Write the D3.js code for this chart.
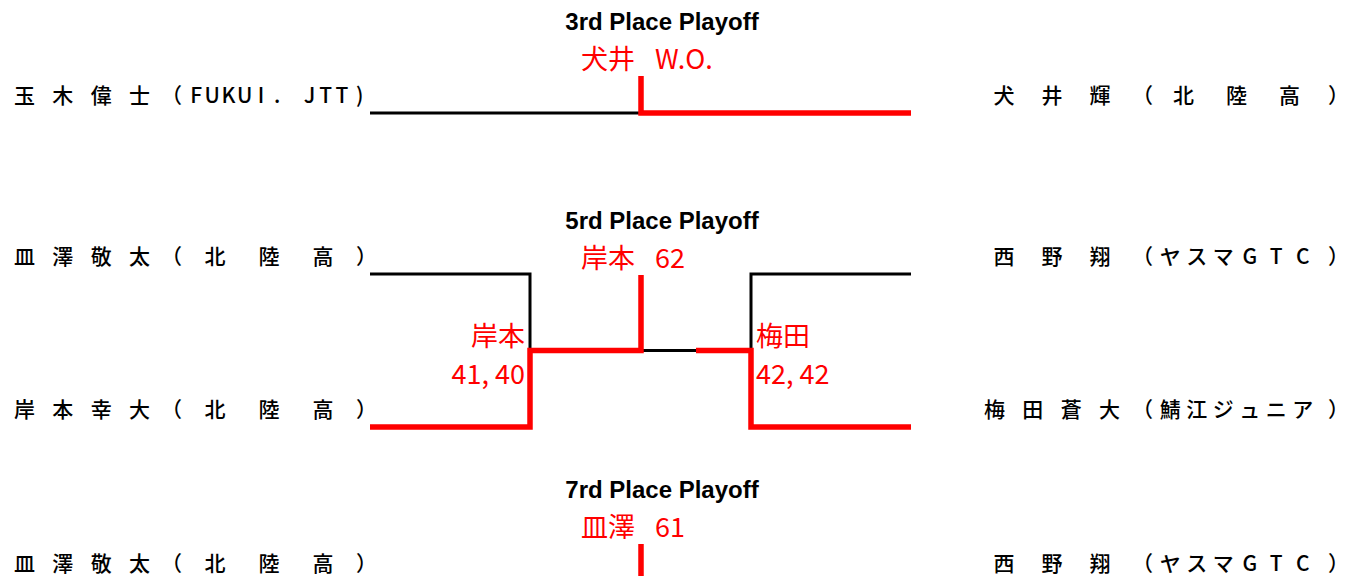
<!DOCTYPE html>
<html>
<head>
<meta charset="utf-8">
<script src="https://cdn.jsdelivr.net/npm/d3@7"></script>
<style>
  body { margin: 0; background: #fff; }
</style>
</head>
<body>
<script>
// playoff titles (one per match)
const titles = ["3rd Place Playoff", "5rd Place Playoff", "7rd Place Playoff"];

// bracket rows: which match each row belongs to, and the players on each side
const slotMatch = [0, 1, 1, 2];
const leftNames = ["玉木偉士", "皿澤敬太", "岸本幸大", "皿澤敬太"];
const leftTeams = ["（FUKUI. JTT)", "（北陸高）", "（北陸高）", "（北陸高）"];
const rightNames = ["犬井輝", "西野翔", "梅田蒼大", "西野翔"];
const rightTeams = ["（北陸高）", "（ヤスマGTC）", "（鯖江ジュニア）", "（ヤスマGTC）"];

// final of each playoff
const finalWinners = ["犬井", "岸本", "皿澤"];
const finalScores = ["W.O.", "62", "61"];
const finalSide = ["R", "L", "L"];

// first round inside the 5th place playoff
const semiMatch = [1, 1];
const semiSide = ["L", "R"];
const semiWinners = ["岸本", "梅田"];
const semiScores = ["41, 40", "42, 42"];
const semiWinnerRow = [2, 2];

var width = 1353, height = 576;
var RED = "#ff0000";
var jp = "'Noto Sans CJK JP', 'Noto Sans', sans-serif";

var svg = d3.select("body").append("svg")
    .attr("width", width)
    .attr("height", height);

// x: bracket depth (-2 = left names, 0 = centre, 2 = right names)
var x = d3.scaleLinear()
    .domain([-2, -1, 0, 1, 2])
    .range([370, 530, 641, 751, 911]);

// y: bracket rows
var y = d3.scaleLinear()
    .domain([0, 1, 2, 3])
    .range([113, 274, 427, 581]);

var line = d3.line()
    .x(function(d) { return x(d[0]); })
    .y(function(d) { return d[1]; });

var gLines = svg.append("g").attr("fill", "none").attr("stroke-linejoin", "miter");
var gRed = svg.append("g").attr("fill", "none").attr("stroke-linejoin", "miter");

function black(pts) {
    gLines.append("path").attr("d", line(pts)).attr("stroke", "#000").attr("stroke-width", 3);
}
function red(pts) {
    gRed.append("path").attr("d", line(pts)).attr("stroke", RED).attr("stroke-width", 5.5);
}

// spread characters evenly over a cell, like distributed alignment
function spread(text, range, pad, yy) {
    var chars = Array.from(text);
    var pos = d3.scalePoint().domain(d3.range(chars.length)).range(range).padding(pad);
    svg.append("g")
        .style("font", "500 21px " + jp)
        .selectAll("text")
        .data(chars)
      .enter().append("text")
        .attr("x", function(d, i) { return pos(i); })
        .attr("y", yy)
        .attr("text-anchor", "middle")
        .text(function(d) { return d; });
}

function team(text, open, inner, close, yy) {
    var chars = Array.from(text);
    var g = svg.append("g").style("font", "500 21px " + jp);
    g.append("text").attr("x", open).attr("y", yy).attr("text-anchor", "end").text(chars[0]);
    g.append("text").attr("x", close).attr("y", yy).attr("text-anchor", "start").text(chars[chars.length - 1]);
    spread(chars.slice(1, -1).join(""), inner, 0.5, yy);
}

// player names
slotMatch.forEach(function(m, r) {
    var by = y(r) - 10;
    spread(leftNames[r], [-14, 178], 1, by);
    team(leftTeams[r], 182, [188, 350], 356, by);
    spread(rightNames[r], [956, 1148], 1, by);
    team(rightTeams[r], 1153, [1157, 1316], 1328, by);
});

titles.forEach(function(title, m) {
    var rows = d3.range(slotMatch.length).filter(function(r) { return slotMatch[r] === m; });
    var fs = finalSide[m] === "L" ? -1 : 1;
    var stubTop, my;

    if (rows.length === 1) {
        my = y(rows[0]);
        stubTop = my - 37;
        black([[-2, my], [2, my]]);
        red([[2 * fs, my], [0, my], [0, stubTop]]);
    } else {
        var r0 = rows[0], r1 = rows[rows.length - 1];
        my = y((r0 + r1) / 2);
        stubTop = y(r0) + 1;
        [-1, 1].forEach(function(s) {
            black([[2 * s, y(r0)], [s, y(r0)], [s, y(r1)]]);
            black([[2 * s, y(r1)], [s, y(r1)]]);
        });
        black([[-1, my], [1, my]]);

        semiMatch.forEach(function(sm, i) {
            if (sm !== m) return;
            var s = semiSide[i] === "L" ? -1 : 1;
            var wy = y(semiWinnerRow[i]);
            var pts = [[2 * s, wy], [s, wy], [s, my]];
            if (s === fs) { pts.push([0, my], [0, stubTop]); }
            else { pts.push([s / 2, my]); }
            red(pts);

            var lx = s < 0 ? x(s) - 5 : x(s) + 5;
            var anchor = s < 0 ? "end" : "start";
            svg.append("text").attr("x", lx).attr("y", my - 5)
                .attr("text-anchor", anchor).style("font", "27px " + jp).attr("fill", RED)
                .text(semiWinners[i]);
            svg.append("text").attr("x", lx).attr("y", my + 33)
                .attr("text-anchor", anchor).style("font", "27px " + jp).attr("fill", RED)
                .text(semiScores[i]);
        });
    }

    // title
    svg.append("text")
        .attr("x", 662)
        .attr("y", stubTop - 46)
        .attr("text-anchor", "middle")
        .style("font", "bold 24px 'Liberation Sans', Arial, sans-serif")
        .text(title);

    // final result
    svg.append("text")
        .attr("x", x(0) - 6)
        .attr("y", stubTop - 7)
        .attr("text-anchor", "end")
        .attr("fill", RED)
        .style("font", "27px " + jp)
        .text(finalWinners[m]);
    svg.append("text")
        .attr("x", x(0) + 14)
        .attr("y", stubTop - 7)
        .attr("text-anchor", "start")
        .attr("fill", RED)
        .style("font", "27px " + jp)
        .text(finalScores[m]);
});
</script>
</body>
</html>
